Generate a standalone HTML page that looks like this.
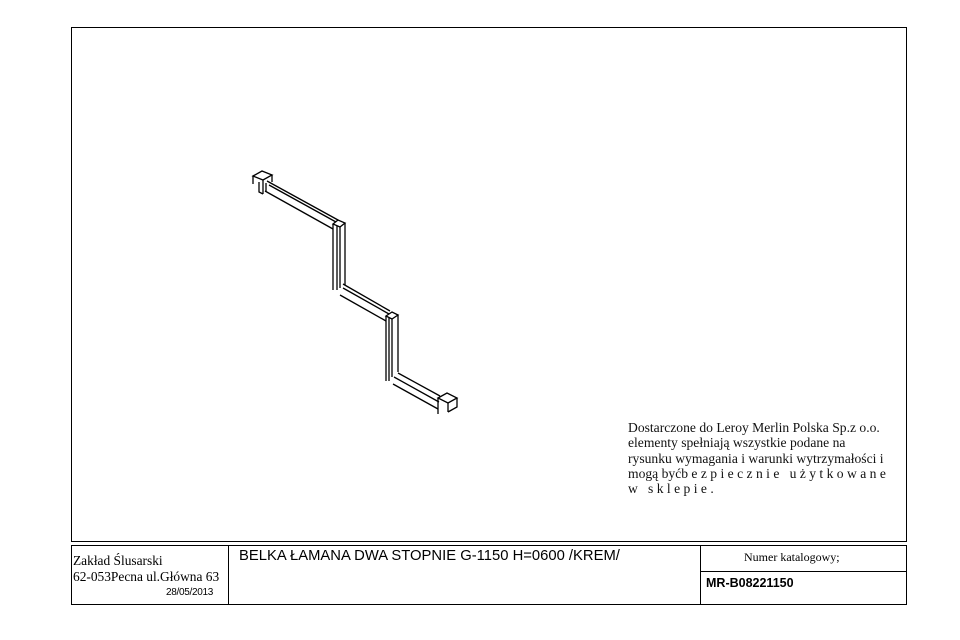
<!DOCTYPE html>
<html><head><meta charset="utf-8"><style>
body{margin:0;background:#fff;width:960px;height:640px;position:relative;overflow:hidden;font-family:"Liberation Sans",sans-serif}
.abs{position:absolute}
.serif{font-family:"Liberation Serif",serif}
</style></head><body>
<div class="abs" style="left:71px;top:27px;width:834px;height:513px;border:1px solid #000"></div>
<svg class="abs" style="left:0;top:0" width="960" height="640" fill="none" stroke="#000" stroke-width="1.3">
 <g>
  <polygon points="253,176 262,171 272,175 263,180" fill="#fff"/>
  <polyline points="253,176 253,184"/><polyline points="263,180 263,194"/><polyline points="272,175 272,182"/>
  <polyline points="259,182 259,192 263,194"/>
 </g>
 <g>
  <polyline points="267,181 338,220"/><polyline points="269,185 336,222"/><polyline points="265,191 333,229"/>
  <polyline points="266,183 266,192"/>
 </g>
 <g>
  <polygon points="333,224 338,220 345,223 340,227" fill="#fff"/>
  <polyline points="333,224 333,290"/><polyline points="340,227 340,288"/><polyline points="345,223 345,285"/>
  <polyline points="337,226 337,290"/>
 </g>
 <g>
  <polyline points="343,284 390,311"/><polyline points="343,288 389,314"/><polyline points="340,295 386,321"/>
 </g>
 <g>
  <polygon points="386,316 392,312 398,315 392,319" fill="#fff"/>
  <polyline points="386,316 386,381"/><polyline points="392,319 392,377"/><polyline points="398,315 398,372"/>
  <polyline points="389,318 389,381"/>
 </g>
 <g>
  <polyline points="398,373 440,396"/><polyline points="394,377 439,402"/><polyline points="393,384 438,409"/>
 </g>
 <g>
  <polygon points="438,398 447,393 457,398 448,403" fill="#fff"/>
  <polyline points="438,398 438,414"/><polyline points="448,403 448,412"/><polyline points="457,398 457,407 448,412"/>
 </g>
</svg>
<div class="abs serif" style="left:628px;top:420px;font-size:13.6px;line-height:15.3px;color:#111;white-space:nowrap">Dostarczone do Leroy Merlin Polska Sp.z o.o.<br>elementy spełniają wszystkie podane na<br>rysunku wymagania i warunki wytrzymałości i<br>mogą być<span style="letter-spacing:3.4px">bezpiecznie użytkowane</span><br><span style="letter-spacing:3.4px">w sklepie.</span></div>
<div class="abs" style="left:71px;top:545px;width:834px;height:58px;border:1px solid #000">
 <div class="abs" style="left:156px;top:0;width:1px;height:58px;background:#000"></div>
 <div class="abs" style="left:628px;top:0;width:1px;height:58px;background:#000"></div>
 <div class="abs" style="left:628px;top:25px;width:206px;height:1px;background:#000"></div>
 <div class="abs serif" style="left:1px;top:7px;font-size:13.4px">Zakład Ślusarski</div>
 <div class="abs serif" style="left:1px;top:23px;font-size:13.4px">62-053Pecna ul.Główna 63</div>
 <div class="abs" style="left:94px;top:41px;font-size:10px;letter-spacing:-0.3px">28/05/2013</div>
 <div class="abs" style="left:167px;top:2px;font-size:14.8px">BELKA ŁAMANA DWA STOPNIE G-1150 H=0600 /KREM/</div>
 <div class="abs serif" style="left:672px;top:4px;font-size:12px">Numer katalogowy;</div>
 <div class="abs" style="left:634px;top:30px;font-size:12.5px;font-weight:bold">MR-B08221150</div>
</div>
</body></html>
